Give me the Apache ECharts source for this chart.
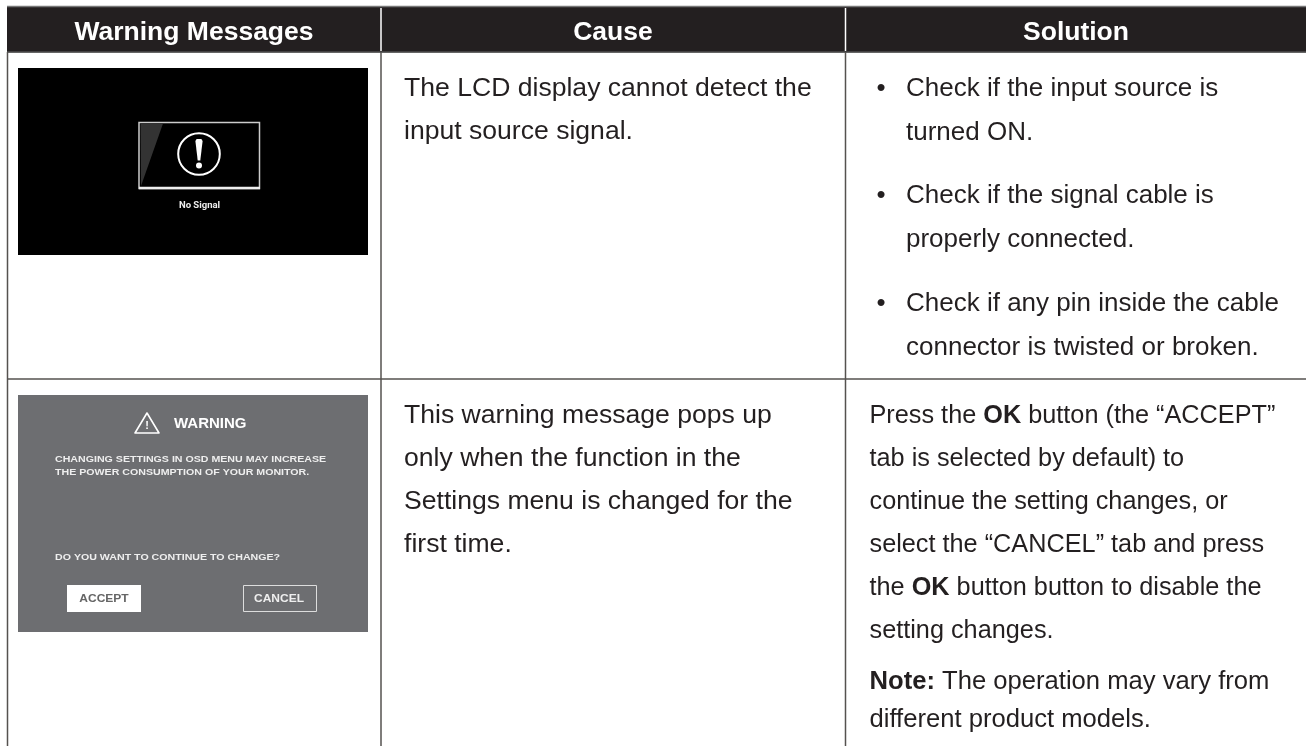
<!DOCTYPE html>
<html><head><meta charset="utf-8">
<style>html,body{margin:0;padding:0;background:#fff}#c{width:1306px;height:746px}</style>
<script src="https://cdn.jsdelivr.net/npm/echarts@6/dist/echarts.min.js"></script>
</head><body><div id="c"></div>
<script>
const headers = ["Warning Messages", "Cause", "Solution"];
const causeRow1 = ["The LCD display cannot detect the", "input source signal."];
const causeRow2 = ["This warning message pops up", "only when the function in the", "Settings menu is changed for the", "first time."];
const solutionRow1 = [
  ["Check if the input source is", "turned ON."],
  ["Check if the signal cable is", "properly connected."],
  ["Check if any pin inside the cable", "connector is twisted or broken."]
];
const solutionRow2 = [
  "Press the {b|OK} button (the “ACCEPT”",
  "tab is selected by default) to",
  "continue the setting changes, or",
  "select the “CANCEL” tab and press",
  "the {b|OK} button button to disable the",
  "setting changes."
];
const noteRow = ["{b|Note:} The operation may vary from", "different product models."];
const noSignal = "No Signal";
const warnTitle = "WARNING";
const warnBody = ["CHANGING SETTINGS IN OSD MENU MAY INCREASE", "THE POWER CONSUMPTION OF YOUR MONITOR."];
const warnAsk = "DO YOU WANT TO CONTINUE TO CHANGE?";
const warnButtons = ["ACCEPT", "CANCEL"];

const FONT = '"Liberation Sans", Arial, sans-serif';
const INK = '#231f20', LINE = '#55524f';
const BODY = 26;
const g = [];
const rect = (x,y,w,h,fill,stroke,lw) => g.push({type:'rect',shape:{x,y,width:w,height:h},style:{fill:fill||'transparent',stroke:stroke||null,lineWidth:lw||0}});
const line = (x1,y1,x2,y2,stroke,lw) => g.push({type:'line',shape:{x1,y1,x2,y2},style:{stroke,lineWidth:lw}});
const text = (x,y,t,o={},sx) => g.push({type:'text',x,y,scaleX:sx||1,style:Object.assign({text:t,fontFamily:FONT,fontSize:BODY,fill:INK,textAlign:'left',textVerticalAlign:'middle',
  rich:{b:{fontFamily:FONT,fontSize:o.fontSize||BODY,fontWeight:'bold',fill:INK}}},o)});

// header
rect(7,6,1299,46,INK);
line(7,6.5,1306,6.5,'#777',1.5);
line(7,52.3,1306,52.3,'#666',1.5);
const headerX = [194,613,1076];
headers.forEach((h,i)=>text(headerX[i],33,h,{fontSize:26.5,fontWeight:'bold',fill:'#fff',textAlign:'center'}));
line(381,8,381,51,'#fff',1.5);
line(845.5,8,845.5,51,'#fff',1.5);
// grid
line(7.5,52,7.5,746,LINE,1.5);
line(381,52,381,746,LINE,1.5);
line(845.5,52,845.5,746,LINE,1.5);
line(7,379,1306,379,LINE,1.5);

// first picture
rect(18,68,350,187,'#000');
rect(139,122.5,120.5,66,'#000','#ccc',1.5);
g.push({type:'polygon',shape:{points:[[140.5,123.5],[163,123.5],[141,186]]},style:{fill:'#333'}});
line(139,188,260,188,'#eee',2.5);
g.push({type:'circle',shape:{cx:199,cy:154,r:20.8},style:{fill:null,stroke:'#fff',lineWidth:2}});
g.push({type:'polygon',shape:{points:[[195.4,141],[196.6,139],[201.4,139],[202.6,141],[200.3,160.5],[197.7,160.5]]},style:{fill:'#fff'}});
g.push({type:'circle',shape:{cx:199,cy:165.5,r:3},style:{fill:'#fff'}});
text(199.5,206,noSignal,{fontFamily:'Roboto, sans-serif',fontSize:9.5,fontWeight:'bold',fill:'#eee',textAlign:'center'});

// second picture
rect(18,395,350,237,'#6d6e71');
g.push({type:'polygon',shape:{points:[[147,413],[135,433],[159,433]]},style:{fill:null,stroke:'#fff',lineWidth:1.6,lineJoin:'round'}});
text(147,426,'!',{fontSize:11,fontWeight:'bold',fill:'#fff',textAlign:'center'});
text(174,424,warnTitle,{fontSize:15,fontWeight:'bold',fill:'#fff'});
warnBody.forEach((t,i)=>text(55,460+i*13,t,{fontSize:8.5,fontWeight:'bold',fill:'#eee'},1.25));
text(55,558,warnAsk,{fontSize:8.5,fontWeight:'bold',fill:'#eee'},1.25);
rect(67,585,74,27,'#fff');
rect(243.5,585.5,73,26,null,'#ddd',1);
text(104,599,warnButtons[0],{fontSize:10,fontWeight:'bold',fill:'#666',textAlign:'center'},1.2);
text(279,599,warnButtons[1],{fontSize:10,fontWeight:'bold',fill:'#eee',textAlign:'center'},1.2);

// cause column
causeRow1.forEach((t,i)=>text(404,89+i*43,t,{},1.022));
causeRow2.forEach((t,i)=>text(404,416+i*43,t,{},1.022));
// solution column
const bulletY = [89,196,304];
solutionRow1.forEach((ls,k)=>{
  text(876.5,bulletY[k],'•',{});
  ls.forEach((t,i)=>text(906,bulletY[k]+i*43.5,t));
});
solutionRow2.forEach((t,i)=>text(869.5,416+i*43,t,{},0.972));
noteRow.forEach((t,i)=>text(869.5,682+i*38,t,{},0.985));

const chart = echarts.init(document.getElementById('c'),null,{renderer:'canvas',width:1306,height:746});
chart.setOption({animation:false,backgroundColor:'#fff',graphic:{elements:g}});
</script></body></html>
